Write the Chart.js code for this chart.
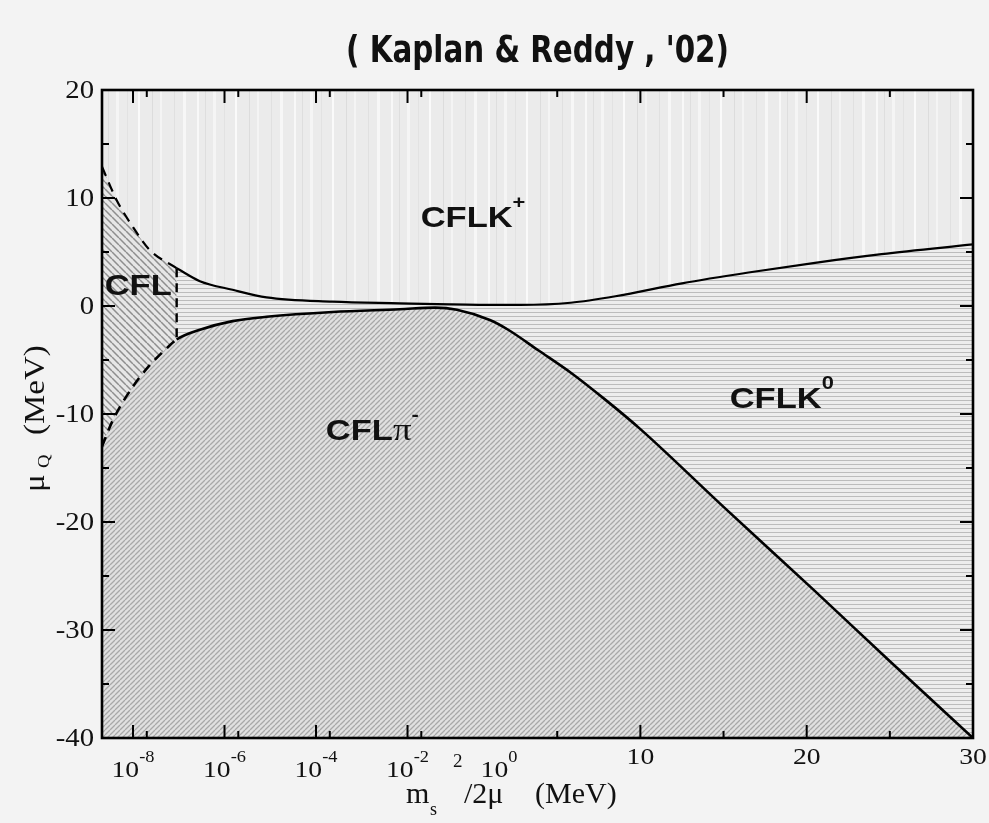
<!DOCTYPE html>
<html>
<head>
<meta charset="utf-8">
<title>CFL phase diagram (Kaplan & Reddy '02)</title>
<script src="https://cdn.jsdelivr.net/npm/chart.js@4.4.1/dist/chart.umd.min.js"></script>
<style>
  html, body { margin: 0; padding: 0; background: #f3f3f3; }
  #chart { display: block; }
</style>
</head>
<body>
<canvas id="chart" width="989" height="823"></canvas>
<script>
// Boundary between CFLK+ (above) and CFL / CFLK0 (below), x in MeV
const upperX = [2.1e-9, 4.4e-9, 1e-8, 2.3e-8, 9e-8, 2.9e-7, 1.5e-6, 8.3e-6, 2.3e-4, 6.8e-3, 0.085, 1, 2.8, 5.8, 8.5, 12.5, 16.5, 20.5, 24.5, 30];
const upperY = [12.9, 9.8, 7.3, 5.2, 3.5, 2.3, 1.5, 0.8, 0.4, 0.25, 0.15, 0.1, 0.1, 0.3, 0.9, 2.1, 3.1, 4.0, 4.8, 5.7];

// Upper edge of the CFLpi- region
const lowerX = [2.1e-9, 3.6e-9, 9.8e-9, 2.3e-8, 5.5e-8, 9e-8, 2.9e-7, 1.5e-6, 8.3e-6, 2.3e-4, 6.8e-3, 0.04, 0.12, 0.63, 2.05, 3.86, 5.84, 7.83, 10, 15, 20.5, 25, 30];
const lowerY = [-13.0, -10.6, -7.5, -5.5, -3.9, -3.1, -2.2, -1.4, -1.0, -0.55, -0.3, -0.15, -0.35, -1.3, -2.2, -4.1, -6.2, -8.6, -11.4, -18.6, -26.4, -32.9, -40];

// the CFL phase ends at this x (dashed vertical line)
const cflEdgeX = 9e-8;

// axis ticks
const yTicks = [20, 10, 0, -10, -20, -30, -40];
const yMinorTicks = [15, 5, -5, -15, -25, -35];
const logTicks = [1e-8, 1e-6, 1e-4, 1e-2];
const logMinorTicks = [2e-8, 2e-6, 2e-4, 2e-2];
const logLabels = [1e-8, 1e-6, 1e-4, 1e-2, 1];
const logLabelExp = ['-8', '-6', '-4', '-2', '0'];
const linTicks = [10, 20, 30];
const linMinorTicks = [5, 15, 25];

// phase names, placed at (x MeV, y MeV)
const regionNames = ['CFLK', 'CFL', 'CFL', 'CFLK'];
const regionGreek = ['', '', 'π', ''];
const regionSup = ['+', '', '-', '0'];
const regionX = [0.27, 1.3e-8, 1.7e-3, 18.5];
const regionY = [7.3, 1.0, -12.4, -9.4];

// The x axis is two panels glued together: log10 up to 10^0, then linear MeV.
const LIN_START = 1.5;      // MeV where the linear panel begins
const DEC_PER_MEV = 0.3635; // width of one MeV, measured in decades
function axisX(v) {
  return v <= 1 ? Math.log10(v) : (v - LIN_START) * DEC_PER_MEV;
}

const STRETCH = 1.15;
const SANS = '"Liberation Sans", Arial, sans-serif';
const SERIF = '"Liberation Serif", "Times New Roman", serif';
const INK = '#111';

const canvas = document.getElementById('chart');
const ctx0 = canvas.getContext('2d');

function pattern(w, h, bg, paint) {
  const tile = document.createElement('canvas');
  tile.width = w;
  tile.height = h;
  const g = tile.getContext('2d');
  g.fillStyle = bg;
  g.fillRect(0, 0, w, h);
  paint(g, w, h);
  return ctx0.createPattern(tile, 'repeat');
}

function diagonal(g, s, color, width, rising) {
  g.strokeStyle = color;
  g.lineWidth = width;
  g.beginPath();
  for (const o of [-s, 0, s]) {
    if (rising) { g.moveTo(o, s); g.lineTo(o + s, 0); }
    else { g.moveTo(o, 0); g.lineTo(o + s, s); }
  }
  g.stroke();
}

// CFLK+ : pale with faint vertical streaks
const vertFill = pattern(97, 2, '#ebebeb', g => {
  const streaks = [[3, '#f8f8f8', 2], [11, '#dedede', 1], [19, '#f5f5f5', 3], [30, '#e2e2e2', 1],
    [41, '#fafafa', 2], [55, '#dcdcdc', 1], [63, '#f4f4f4', 2], [77, '#e0e0e0', 1], [86, '#f7f7f7', 3]];
  streaks.forEach(([x, c, w]) => { g.fillStyle = c; g.fillRect(x, 0, w, 2); });
});
// CFLK0 : horizontal lines
const horizFill = pattern(4, 4, '#ededed', g => { g.fillStyle = '#bcbcbc'; g.fillRect(0, 0, 4, 1); });
// CFLpi- : fine rising hatch
const piFill = pattern(5, 5, '#e0e0e0', g => diagonal(g, 5, '#a8a8a8', 1.3, true));
// CFL : coarser falling hatch
const cflFill = pattern(7, 7, '#e6e6e6', g => diagonal(g, 7, '#8e8e8e', 1.5, false));

const toPts = (xs, ys) => xs.map((x, i) => ({ x: axisX(x), y: ys[i] }));
const split = upperX.indexOf(cflEdgeX);
const edgeU = axisX(cflEdgeX);

function runs(ctx, parts, x, y, align) {
  const widths = parts.map(p => { ctx.font = p.font; return ctx.measureText(p.text).width * (p.sx || STRETCH); });
  const total = widths.reduce((a, b) => a + b, 0);
  let cx = align === 'center' ? x - total / 2 : align === 'right' ? x - total : x;
  parts.forEach((p, i) => {
    ctx.save();
    ctx.font = p.font;
    ctx.translate(cx, y + (p.dy || 0));
    ctx.scale(p.sx || STRETCH, 1);
    ctx.textAlign = 'left';
    ctx.textBaseline = 'alphabetic';
    ctx.fillText(p.text, 0, 0);
    ctx.restore();
    cx += widths[i];
  });
}

const phasePlot = {
  id: 'phasePlot',
  beforeDraw(chart) {
    const { ctx, chartArea: a } = chart;
    ctx.save();
    ctx.fillStyle = '#f3f3f3';
    ctx.fillRect(0, 0, chart.width, chart.height);
    ctx.fillStyle = vertFill;
    ctx.fillRect(a.left, a.top, a.right - a.left, a.bottom - a.top);
    ctx.restore();
  },
  afterDraw(chart) {
    const { ctx, chartArea: a } = chart;
    const xs = chart.scales.x, ys = chart.scales.y;
    const px = v => xs.getPixelForValue(axisX(v));
    const py = v => ys.getPixelForValue(v);

    ctx.save();
    ctx.strokeStyle = '#000';
    ctx.lineWidth = 2;
    ctx.beginPath();
    const xTick = (p, len) => {
      ctx.moveTo(p, a.bottom); ctx.lineTo(p, a.bottom - len);
      ctx.moveTo(p, a.top); ctx.lineTo(p, a.top + len);
    };
    const yTick = (p, len) => {
      ctx.moveTo(a.left, p); ctx.lineTo(a.left + len, p);
      ctx.moveTo(a.right, p); ctx.lineTo(a.right - len, p);
    };
    logTicks.concat(linTicks).forEach(v => xTick(px(v), 13));
    logMinorTicks.concat(linMinorTicks).forEach(v => xTick(px(v), 7));
    yTicks.forEach(v => yTick(py(v), 13));
    yMinorTicks.forEach(v => yTick(py(v), 7));
    ctx.stroke();

    ctx.lineWidth = 2.6;
    ctx.strokeRect(a.left, a.top, a.right - a.left, a.bottom - a.top);

    ctx.fillStyle = INK;
    // y tick labels
    yTicks.forEach(v => runs(ctx, [{ text: String(v), font: '25px ' + SERIF }], a.left - 8, py(v) + 8, 'right'));
    // x tick labels
    logLabels.forEach((v, i) => runs(ctx, [
      { text: '10', font: '24px ' + SERIF },
      { text: logLabelExp[i], font: '16px ' + SERIF, dy: -15 }
    ], px(v), a.bottom + 39, 'center'));
    linTicks.forEach(v => runs(ctx, [{ text: String(v), font: '24px ' + SERIF }], px(v), a.bottom + 26, 'center'));

    // axis titles
    const tf = '30px ' + SERIF;
    runs(ctx, [{ text: 'm', font: tf, sx: 1 }], 406, 803, 'left');
    runs(ctx, [{ text: 's', font: '18px ' + SERIF, sx: 1 }], 430, 815, 'left');
    runs(ctx, [{ text: '2', font: '19px ' + SERIF, sx: 1 }], 453, 767, 'left');
    runs(ctx, [{ text: '/2μ', font: tf, sx: 1 }], 464, 803, 'left');
    runs(ctx, [{ text: '(MeV)', font: tf, sx: 1 }], 535, 803, 'left');

    ctx.save();
    ctx.translate(44, 492);
    ctx.rotate(-Math.PI / 2);
    runs(ctx, [{ text: 'μ', font: '30px ' + SERIF, sx: 1.1 }], 0, 0, 'left');
    runs(ctx, [{ text: 'Q', font: '17px ' + SERIF, sx: 1.1 }], 24, 5, 'left');
    runs(ctx, [{ text: '(MeV)', font: '30px ' + SERIF, sx: 1.1 }], 57, 0, 'left');
    ctx.restore();

    // phase names
    regionNames.forEach((name, i) => {
      const parts = [{ text: name, font: 'bold 30px ' + SANS }];
      if (regionGreek[i]) parts.push({ text: regionGreek[i], font: '32px ' + SERIF });
      if (regionSup[i]) parts.push({ text: regionSup[i], font: 'bold 19px ' + SANS, dy: -19 });
      runs(ctx, parts, px(regionX[i]), py(regionY[i]), 'center');
    });

    // handwritten note on top
    const noteFont = 'bold 38px "DejaVu Sans", sans-serif';
    const note = '( Kaplan & Reddy , \'02)';
    ctx.font = noteFont;
    const w = ctx.measureText(note).width;
    runs(ctx, [{ text: note, font: noteFont, sx: 383 / w }], 346, 62, 'left');
    ctx.restore();
  }
};

new Chart(canvas, {
  type: 'line',
  data: {
    datasets: [
      {
        // CFLpi- region (fill only, its edge is drawn by the last dataset)
        data: toPts(lowerX, lowerY),
        borderColor: 'rgba(0,0,0,0)',
        borderWidth: 1,
        cubicInterpolationMode: 'monotone',
        fill: 'start',
        backgroundColor: piFill
      },
      {
        // CFL / CFLK+ boundary, CFL filled down to the CFLpi- edge
        data: toPts(upperX.slice(0, split + 1), upperY.slice(0, split + 1)),
        borderColor: '#000',
        borderWidth: 2.2,
        borderDash: [10, 7],
        cubicInterpolationMode: 'monotone',
        fill: 0,
        backgroundColor: cflFill
      },
      {
        // CFLK0 / CFLK+ boundary, CFLK0 filled down to the CFLpi- edge
        data: toPts(upperX.slice(split), upperY.slice(split)),
        borderColor: '#000',
        borderWidth: 2.2,
        cubicInterpolationMode: 'monotone',
        fill: 0,
        backgroundColor: horizFill
      },
      {
        // right end of the CFL phase
        data: toPts([cflEdgeX, cflEdgeX], [upperY[split], lowerY[lowerX.indexOf(cflEdgeX)]]),
        borderColor: '#000',
        borderWidth: 2.4,
        borderDash: [9, 6],
        tension: 0,
        fill: false
      },
      {
        // CFLpi- edge line, dashed where it borders CFL
        data: toPts(lowerX, lowerY),
        borderColor: '#000',
        borderWidth: 2.6,
        cubicInterpolationMode: 'monotone',
        fill: false,
        segment: { borderDash: c => c.p1.parsed.x <= edgeU + 1e-9 ? [10, 7] : undefined }
      }
    ]
  },
  options: {
    responsive: false,
    animation: false,
    devicePixelRatio: 1,
    events: [],
    elements: { point: { radius: 0 } },
    layout: { padding: { left: 102, right: 16, top: 90, bottom: 85 } },
    scales: {
      x: { type: 'linear', min: axisX(2.1e-9), max: axisX(30), display: false },
      y: { type: 'linear', min: -40, max: 20, display: false }
    },
    plugins: {
      legend: { display: false },
      tooltip: { enabled: false },
      filler: { drawTime: 'beforeDatasetsDraw' }
    }
  },
  plugins: [phasePlot]
});
</script>
</body>
</html>
